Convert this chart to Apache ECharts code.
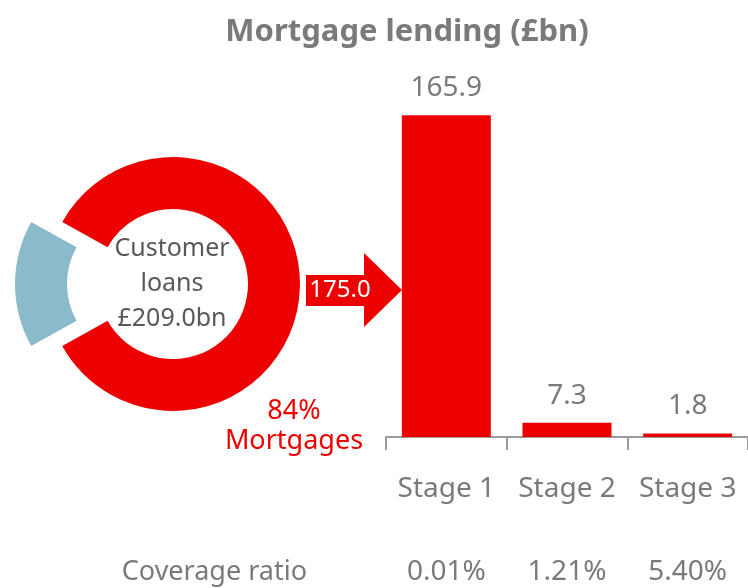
<!DOCTYPE html>
<html>
<head>
<meta charset="utf-8">
<title>Mortgage lending</title>
<script src="https://cdn.jsdelivr.net/npm/echarts@6/dist/echarts.min.js"></script>
<style>
  html, body { margin: 0; padding: 0; background: #fff; }
  #chart { width: 748px; height: 588px; }
</style>
</head>
<body>
<div id="chart"></div>
<script>
// customer loans split (£bn)
var loanNames = ['Mortgages', 'Other'];
var loanValues = [175.0, 34.0];

// mortgage lending by stage (£bn)
var stages = ['Stage 1', 'Stage 2', 'Stage 3'];
var stageValues = [165.9, 7.3, 1.8];
var coverage = ['0.01%', '1.21%', '5.40%'];

var RED = '#ec0000';
var BLUE = '#8bbacb';
var GREY = '#7a7a7a';
var FONT = '"Noto Sans", sans-serif';

var total = loanValues[0] + loanValues[1];
var otherAngle = loanValues[1] / total * 360;
var mortgagePct = Math.round(loanValues[0] / total * 100);

var chart = echarts.init(document.getElementById('chart'));

var option = {
  backgroundColor: '#fff',
  animation: false,
  title: {
    text: 'Mortgage lending (£bn)',
    left: 402,
    top: 12,
    textAlign: 'center',
    textStyle: {
      color: GREY,
      fontSize: 31,
      fontWeight: 'bold',
      fontFamily: FONT
    }
  },
  grid: {
    left: 386,
    right: 0,
    top: 49,
    bottom: 151,
    containLabel: false
  },
  xAxis: [{
    type: 'category',
    data: stages,
    axisLine: {
      show: true,
      lineStyle: { color: '#9a9a9a', width: 2 }
    },
    axisTick: {
      show: true,
      length: 13,
      lineStyle: { color: '#9a9a9a', width: 2 }
    },
    axisLabel: {
      interval: 0,
      hideOverlap: false,
      color: GREY,
      fontSize: 28,
      fontFamily: FONT,
      margin: 38
    }
  }, {
    // coverage ratio row, under the stages
    type: 'category',
    position: 'bottom',
    offset: 135,
    data: coverage,
    name: 'Coverage ratio',
    nameLocation: 'start',
    nameGap: 79,
    nameTextStyle: {
      color: GREY,
      fontSize: 27,
      fontFamily: FONT
    },
    axisLine: { show: false },
    axisTick: { show: false },
    axisLabel: {
      interval: 0,
      hideOverlap: false,
      color: GREY,
      fontSize: 28,
      fontFamily: FONT,
      margin: 0,
      verticalAlign: 'middle'
    }
  }],
  yAxis: {
    type: 'value',
    min: 0,
    max: 200,
    show: false,
    splitLine: { show: false }
  },
  series: [{
    name: 'Mortgage lending',
    type: 'bar',
    xAxisIndex: 0,
    barWidth: 89,
    data: stageValues,
    itemStyle: { color: RED },
    label: {
      show: true,
      position: 'top',
      distance: 13,
      color: GREY,
      fontSize: 28,
      fontFamily: FONT,
      formatter: function (p) { return p.value.toFixed(1); }
    }
  }, {
    name: 'Customer loans',
    type: 'pie',
    center: [173, 284],
    radius: [75, 127],
    startAngle: 180 - otherAngle / 2,
    clockwise: true,
    selectedMode: 'single',
    selectedOffset: 31,
    label: { show: false },
    labelLine: { show: false },
    emphasis: { scale: false },
    data: [
      { name: loanNames[0], value: loanValues[0], itemStyle: { color: RED } },
      { name: loanNames[1], value: loanValues[1], itemStyle: { color: BLUE }, selected: true }
    ]
  }],
  graphic: [{
    type: 'text',
    x: 172,
    y: 284,
    style: {
      text: 'Customer\nloans\n£' + total.toFixed(1) + 'bn',
      fill: '#595959',
      font: '25px ' + FONT,
      lineHeight: 35,
      textAlign: 'center',
      textVerticalAlign: 'middle',
      align: 'center',
      verticalAlign: 'middle'
    }
  }, {
    type: 'polygon',
    shape: {
      points: [[306, 275], [364, 275], [364, 253], [402, 290], [364, 327], [364, 306], [306, 306]]
    },
    style: { fill: RED }
  }, {
    type: 'text',
    x: 340,
    y: 290,
    style: {
      text: loanValues[0].toFixed(1),
      fill: '#fff',
      font: '24px ' + FONT,
      textAlign: 'center',
      textVerticalAlign: 'middle',
      align: 'center',
      verticalAlign: 'middle'
    }
  }, {
    type: 'text',
    x: 294,
    y: 426,
    style: {
      text: mortgagePct + '%\nMortgages',
      fill: RED,
      font: '27px ' + FONT,
      lineHeight: 30,
      textAlign: 'center',
      textVerticalAlign: 'middle',
      align: 'center',
      verticalAlign: 'middle'
    }
  }]
};

chart.setOption(option);
</script>
</body>
</html>
